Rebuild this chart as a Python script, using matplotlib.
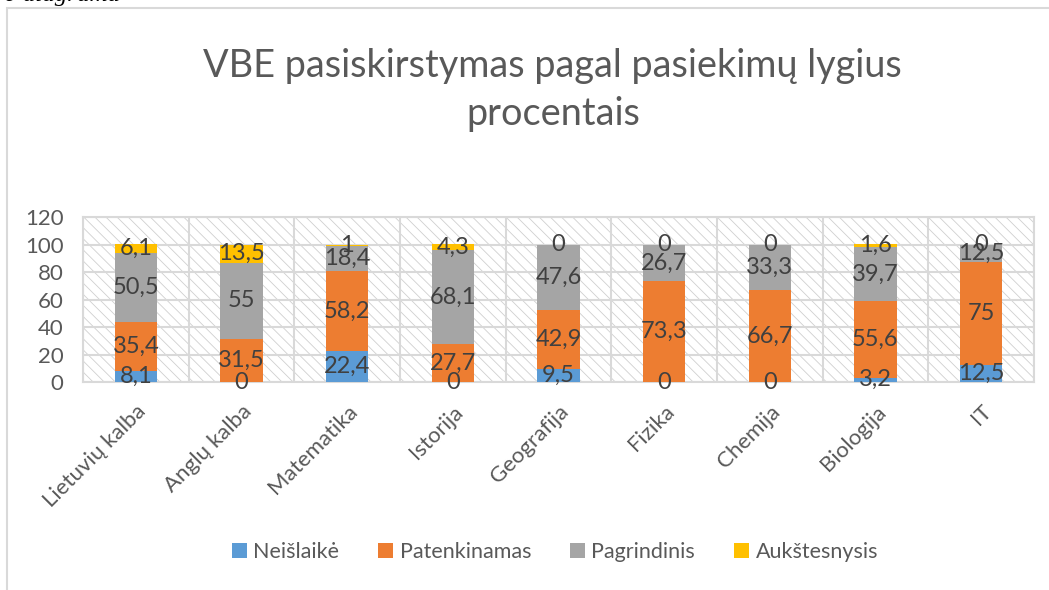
import numpy as np
import matplotlib.pyplot as plt
from matplotlib.patches import Rectangle

# duomenys
dalykai = ['Lietuvių kalba', 'Anglų kalba', 'Matematika', 'Istorija', 'Geografija',
           'Fizika', 'Chemija', 'Biologija', 'IT']
neislaike = [8.1, 0, 22.4, 0, 9.5, 0, 0, 3.2, 12.5]
patenkinamas = [35.4, 31.5, 58.2, 27.7, 42.9, 73.3, 66.7, 55.6, 75]
pagrindinis = [50.5, 55, 18.4, 68.1, 47.6, 26.7, 33.3, 39.7, 12.5]
aukstesnysis = [6.1, 13.5, 1, 4.3, 0, 0, 0, 1.6, 0]

serijos = [('Neišlaikė', neislaike, '#5B9BD5'),
           ('Patenkinamas', patenkinamas, '#ED7D31'),
           ('Pagrindinis', pagrindinis, '#A5A5A5'),
           ('Aukštesnysis', aukstesnysis, '#FFC000')]

plt.rcParams['font.family'] = ['Lato', 'DejaVu Sans']
plt.rcParams['hatch.color'] = '#cfcfcf'
plt.rcParams['hatch.linewidth'] = 0.6

fig = plt.figure(figsize=(10.49, 5.90), dpi=100)
ax = fig.add_axes([0.0791, 0.3525, 0.9066, 0.2797])

# ramelis aplink diagrama
fig.patches.append(Rectangle((7 / 1049, -0.1), 1.2, 1 - 8 / 590 + 0.1,
                             transform=fig.transFigure, fill=False,
                             edgecolor='#d9d9d9', linewidth=1.5))
fig.text(4 / 1049, 1 - 1 / 590, 'o diagrama', fontsize=18, style='italic',
         family='Liberation Serif', va='baseline', ha='left')

# brūkšniuotas fonas
ax.patch.set_facecolor('white')
ax.patch.set_hatch('\\\\\\')
ax.patch.set_edgecolor('#cfcfcf')

x = np.arange(len(dalykai))
apacia = np.zeros(len(dalykai))
for pav, reiksmes, spalva in serijos:
    r = np.array(reiksmes, dtype=float)
    ax.bar(x, r, 0.4, bottom=apacia, color=spalva, label=pav, zorder=3)
    for xi, b, v in zip(x, apacia, r):
        tekstas = ('%g' % v).replace('.', ',')
        ax.text(xi, b + v / 2, tekstas, ha='center', va='center',
                fontsize=17, color='#404040', zorder=5)
    apacia = apacia + r

ax.set_xlim(-0.5, len(dalykai) - 0.5)
ax.set_ylim(0, 120)
ax.set_yticks(range(0, 121, 20))
ax.set_xticks(x)
ax.set_xticklabels(dalykai, rotation=45, ha='right', rotation_mode='anchor')
ax.set_xticks(np.arange(len(dalykai) + 1) - 0.5, minor=True)
ax.tick_params(axis='both', which='both', length=0, labelsize=16,
               labelcolor='#595959', pad=14)
ax.tick_params(axis='x', pad=14)
ax.grid(axis='y', which='major', color='#d9d9d9', linewidth=1.5, zorder=1)
ax.grid(axis='x', which='minor', color='#d9d9d9', linewidth=1.5, zorder=1)
ax.set_axisbelow(True)
for s in ax.spines.values():
    s.set_color('#d9d9d9')
    s.set_linewidth(1.5)

fig.text(0.527, 0.847, 'VBE pasiskirstymas pagal pasiekimų lygius\nprocentais',
         ha='center', va='center', fontsize=27.3, color='#595959',
         linespacing=1.4)

ax.legend(loc='center', bbox_to_anchor=(0.529, 0.064),
          bbox_transform=fig.transFigure, ncol=4, frameon=False,
          fontsize=15.5, handlelength=0.7, handleheight=0.7,
          handletextpad=0.3, columnspacing=1.8, labelcolor='#595959')

fig.savefig('out.png', dpi=100)
